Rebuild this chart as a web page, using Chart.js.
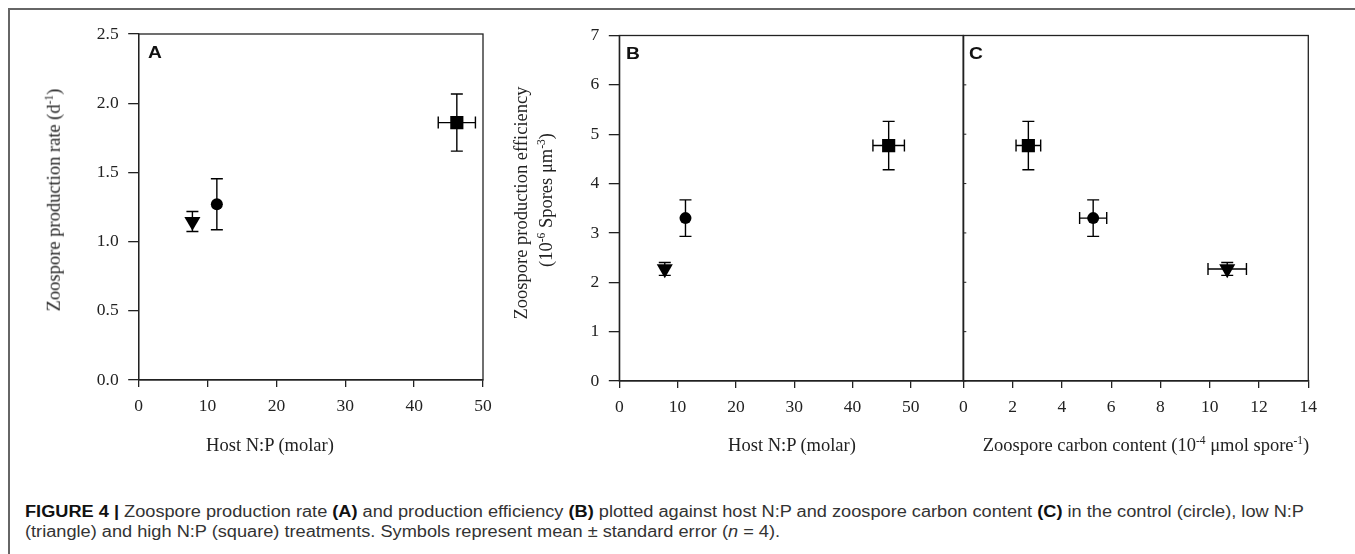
<!DOCTYPE html>
<html>
<head>
<meta charset="utf-8">
<script src="https://cdn.jsdelivr.net/npm/chart.js@4/dist/chart.umd.min.js"></script>
<style>
    html, body { margin: 0; padding: 0; background: #fff; }
    #fig { position: relative; width: 1355px; height: 554px; overflow: hidden; background: #fff; }
    #fig canvas { position: absolute; left: 0; top: 0; }
    .frame { position: absolute; left: 8px; top: 8px; width: 1400px; height: 600px;
             border-left: 2px solid #666; border-top: 2px solid #666; }
    .label { position: absolute; font-family: "Liberation Serif", "Times New Roman", serif;
             font-size: 18.5px; color: #222; white-space: nowrap; line-height: 1; }
    .label sup { font-size: 0.62em; vertical-align: 0.6em; line-height: 0; }
    .rot { transform: translate(-50%, -50%) rotate(-90deg); }
    .xt { transform: translateX(-50%); }
    .panel { position: absolute; font-family: "Liberation Sans", Arial, sans-serif;
             font-weight: bold; font-size: 16px; line-height: 1; color: #111;
             transform: scaleX(1.2); transform-origin: 0 0; }
    .caption { position: absolute; left: 25px; font-family: "Liberation Sans", Arial, sans-serif;
               font-size: 16px; color: #333; white-space: nowrap; line-height: 1; transform-origin: 0 0; }
    .caption b { color: #111; }
</style>
</head>
<body>
<div id="fig">
    <div class="frame"></div>
    <canvas id="chartA" width="1355" height="470"></canvas>
    <canvas id="chartB" width="1355" height="470"></canvas>
    <canvas id="chartC" width="1355" height="470"></canvas>

    <div class="panel" style="left:147.5px; top:45px;">A</div>
    <div class="panel" style="left:626px; top:46px;">B</div>
    <div class="panel" style="left:969px; top:46px;">C</div>

    <div class="label rot" style="left:54px; top:200px;">Zoospore production rate (d<sup>-1</sup>)</div>
    <div class="label rot" style="left:521px; top:203px;">Zoospore production efficiency</div>
    <div class="label rot" style="left:546px; top:200px;">(10<sup>-6</sup> Spores μm<sup>-3</sup>)</div>

    <div class="label xt" style="left:270px; top:436px;">Host N:P (molar)</div>
    <div class="label xt" style="left:792px; top:436px;">Host N:P (molar)</div>
    <div class="label xt" style="left:1146px; top:436px;">Zoospore carbon content (10<sup>-4</sup> μmol spore<sup>-1</sup>)</div>

    <div class="caption" id="cap1" style="top:504px;"><b>FIGURE 4 |</b> Zoospore production rate <b>(A)</b> and production efficiency <b>(B)</b> plotted against host N:P and zoospore carbon content <b>(C)</b> in the control (circle), low N:P</div>
    <div class="caption" id="cap2" style="top:524px;">(triangle) and high N:P (square) treatments. Symbols represent mean ± standard error (<i>n</i> = 4).</div>
</div>

<script>
// ===== DATA =====
// order: control (circle), low N:P (triangle), high N:P (square)
const treatments = ['control', 'low N:P', 'high N:P'];
const pointStyles = ['circle', 'triangle', 'rect'];

const hostNP = [11.35, 7.8, 46.2];
const hostNPErr = [0, 0, 2.7];

const productionRate = [1.27, 1.145, 1.86];
const productionRateErr = [0.184, 0.072, 0.206];

const efficiency = [3.3, 2.27, 4.77];
const efficiencyErr = [0.37, 0.13, 0.49];

const carbonContent = [5.27, 10.71, 2.64];
const carbonContentErr = [0.55, 0.78, 0.5];

const ticksRate = { min: 0, max: 2.5, step: 0.5 };
const ticksEff = { min: 0, max: 7, step: 1 };
const ticksHostA = { min: 0, max: 50, step: 10 };
const ticksHostB = { min: 0, max: 59, step: 10 };
const ticksCarbon = { min: 0, max: 14, step: 2 };

// ===== LAYOUT =====
const CANVAS_W = 1355, CANVAS_H = 470;
const Y_W = 60, X_H = 50;
const INK = '#222';
const TICK_FONT = { family: '"Liberation Serif", "Times New Roman", serif', size: 17.5 };

const errorBars = {
    id: 'errorBars',
    beforeDatasetsDraw(chart) {
        const { ctx, scales: { x, y } } = chart;
        const cap = 6;
        ctx.save();
        ctx.strokeStyle = '#000';
        ctx.lineWidth = 1.4;
        chart.data.datasets.forEach(ds => {
            ds.data.forEach(p => {
                const px = x.getPixelForValue(p.x);
                const py = y.getPixelForValue(p.y);
                ctx.beginPath();
                if (p.yErr) {
                    const y1 = y.getPixelForValue(p.y + p.yErr);
                    const y2 = y.getPixelForValue(p.y - p.yErr);
                    ctx.moveTo(px, y1); ctx.lineTo(px, y2);
                    ctx.moveTo(px - cap, y1); ctx.lineTo(px + cap, y1);
                    ctx.moveTo(px - cap, y2); ctx.lineTo(px + cap, y2);
                }
                if (p.xErr) {
                    const x1 = x.getPixelForValue(p.x - p.xErr);
                    const x2 = x.getPixelForValue(p.x + p.xErr);
                    ctx.moveTo(x1, py); ctx.lineTo(x2, py);
                    ctx.moveTo(x1, py - cap); ctx.lineTo(x1, py + cap);
                    ctx.moveTo(x2, py - cap); ctx.lineTo(x2, py + cap);
                }
                ctx.stroke();
            });
        });
        ctx.restore();
    }
};

const frame = {
    id: 'frame',
    afterDraw(chart, args, opts) {
        const { ctx, chartArea: a } = chart;
        ctx.save();
        ctx.strokeStyle = INK;
        ctx.lineWidth = 1.3;
        ctx.strokeRect(a.left, a.top, a.right - a.left, a.bottom - a.top);
        // small inward ticks on the left edge (panel C)
        if (opts.innerTicks) {
            const y = chart.scales.y;
            ctx.beginPath();
            y.ticks.forEach(t => {
                const py = y.getPixelForValue(t.value);
                ctx.moveTo(a.left, py);
                ctx.lineTo(a.left + 3, py);
            });
            ctx.lineWidth = 1;
            ctx.stroke();
        }
        ctx.restore();
    }
};

function makeDatasets(xs, xErrs, ys, yErrs) {
    return treatments.map((name, i) => ({
        label: name,
        data: [{ x: xs[i], y: ys[i], xErr: xErrs[i], yErr: yErrs[i] }],
        pointStyle: pointStyles[i],
        pointRadius: pointStyles[i] === 'circle' ? 6 : 9.3,
        pointRotation: pointStyles[i] === 'triangle' ? 180 : 0,
        backgroundColor: '#000',
        borderColor: '#000',
        borderWidth: 0
    }));
}

function axis(t, opts) {
    return Object.assign({
        type: 'linear',
        min: t.min,
        max: t.max,
        ticks: { stepSize: t.step, includeBounds: false, font: TICK_FONT, color: INK, padding: 9 },
        grid: { drawOnChartArea: false, drawTicks: true, tickLength: 8, color: INK, lineWidth: 1.3 },
        border: { color: INK, width: 1.3 }
    }, opts);
}

function makeChart(id, area, datasets, xTicks, yTicks, yOpts, innerTicks) {
    const yWidth = yOpts.hidden ? 0 : Y_W;
    const yAxis = axis(yTicks, { afterFit: s => { s.width = yWidth; } });
    if (yOpts.hidden) {
        yAxis.ticks.display = false;
        yAxis.grid.drawTicks = false;
    } else {
        yAxis.grid.tickLength = 10.5;
        yAxis.ticks.padding = 9.5;
        if (yOpts.decimals) yAxis.ticks.callback = v => v.toFixed(yOpts.decimals);
    }
    const xAxis = axis(xTicks, { afterFit: s => { s.height = X_H; } });
    xAxis.grid.tickLength = 7;
    xAxis.ticks.padding = 9;

    return new Chart(document.getElementById(id), {
        type: 'scatter',
        data: { datasets: datasets },
        options: {
            responsive: false,
            animation: false,
            devicePixelRatio: 1,
            layout: {
                padding: {
                    left: area.left - yWidth,
                    top: area.top,
                    right: CANVAS_W - area.right,
                    bottom: CANVAS_H - area.bottom - X_H
                }
            },
            plugins: {
                legend: { display: false },
                tooltip: { enabled: false },
                frame: { innerTicks: innerTicks }
            },
            scales: { x: xAxis, y: yAxis }
        },
        plugins: [errorBars, frame]
    });
}

makeChart('chartA', { left: 138.7, top: 34, right: 483, bottom: 380 },
    makeDatasets(hostNP, hostNPErr, productionRate, productionRateErr),
    ticksHostA, ticksRate, { decimals: 1 }, false);

makeChart('chartB', { left: 619.3, top: 35.5, right: 963.3, bottom: 381 },
    makeDatasets(hostNP, hostNPErr, efficiency, efficiencyErr),
    ticksHostB, ticksEff, {}, false);

makeChart('chartC', { left: 963.3, top: 35.5, right: 1308.3, bottom: 381 },
    makeDatasets(carbonContent, carbonContentErr, efficiency, efficiencyErr),
    ticksCarbon, ticksEff, { hidden: true }, true);

// fit the caption to the width it has in the figure
const cap1 = document.getElementById('cap1');
const cap2 = document.getElementById('cap2');
const k = 1279 / cap1.getBoundingClientRect().width;
cap1.style.transform = 'scaleX(' + k + ')';
cap2.style.transform = 'scaleX(' + k + ')';
</script>
</body>
</html>
